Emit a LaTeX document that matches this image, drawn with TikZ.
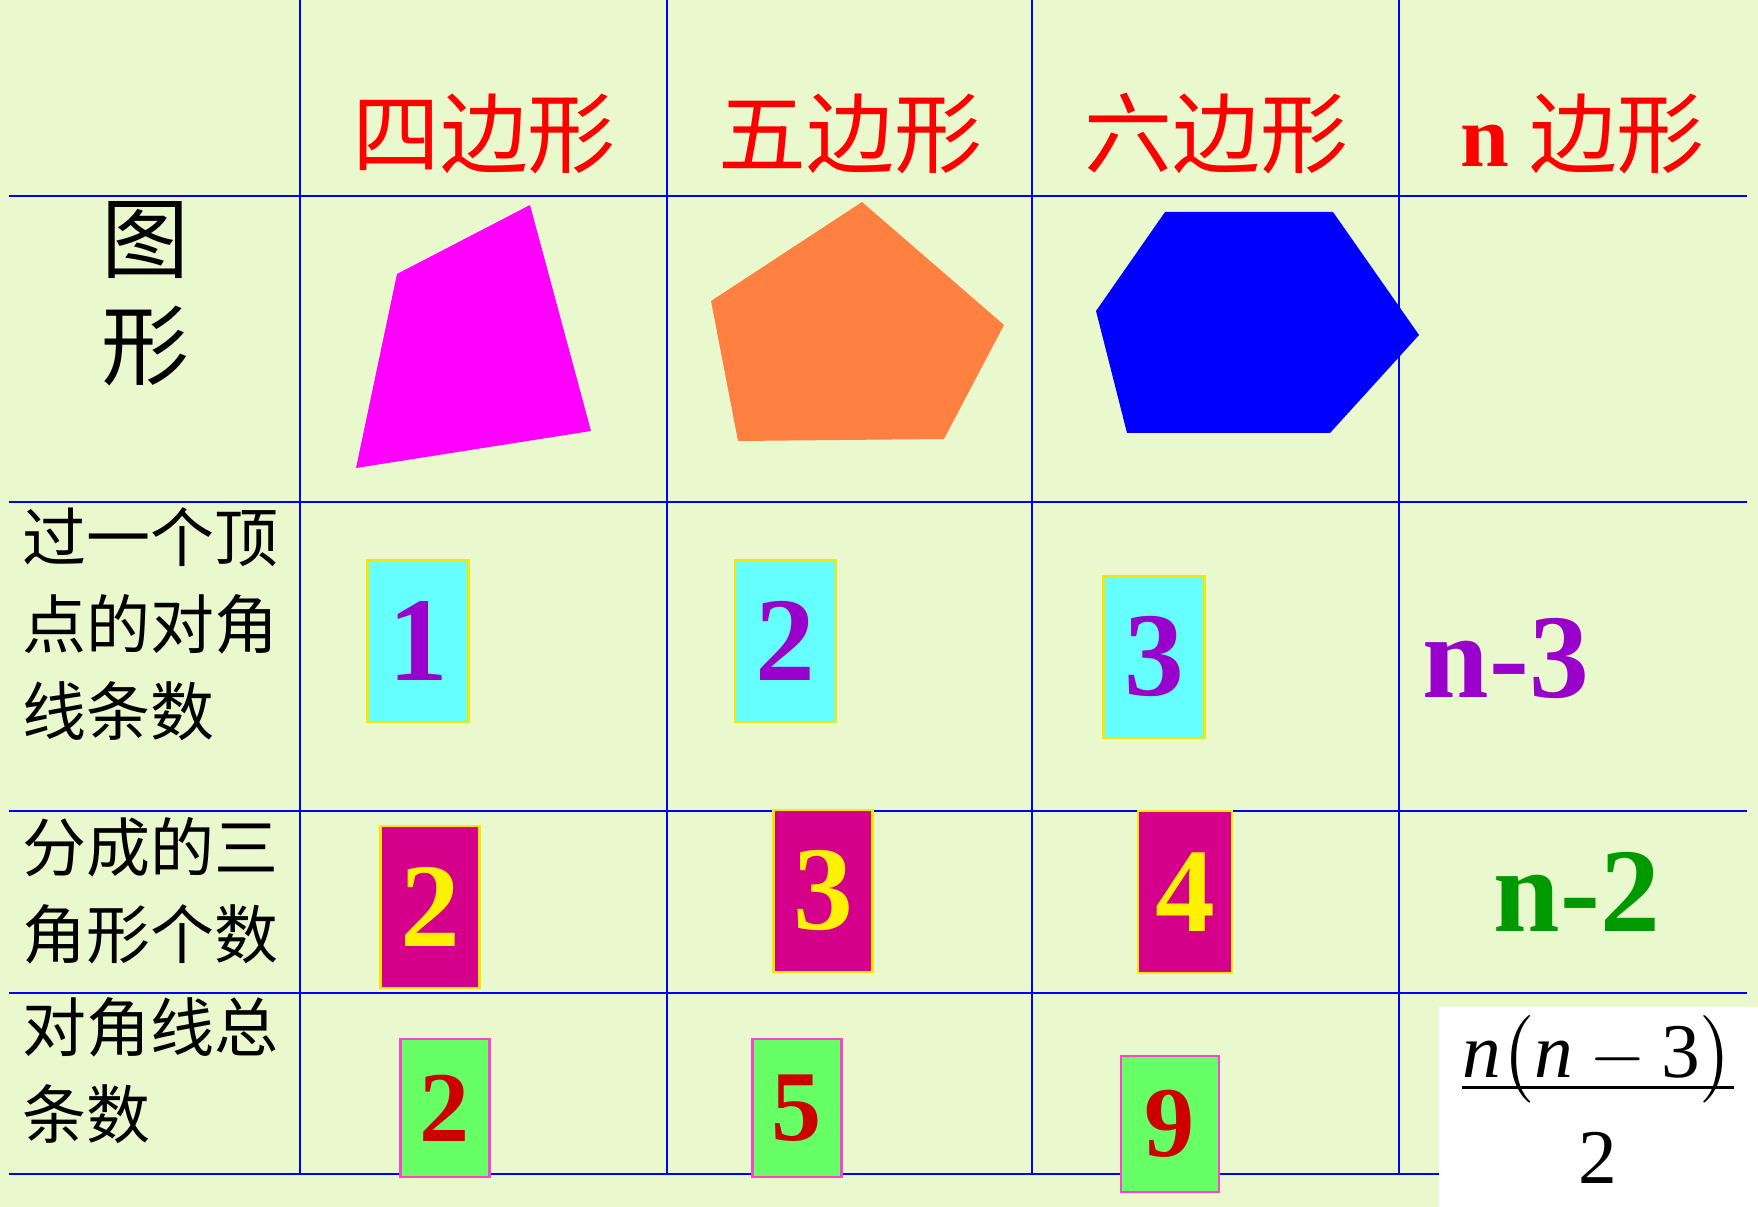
\documentclass[tikz,border=0pt]{standalone}
\usepackage{amsmath}
\usepackage{fontspec}
\setmainfont{Liberation Serif}
\newfontfamily\cjk{Noto Sans CJK SC}
\usetikzlibrary{positioning}

\definecolor{bgcol}{HTML}{EAF9CD}
\definecolor{quadcol}{HTML}{FF00FF}
\definecolor{pentcol}{HTML}{FF8040}
\definecolor{hexcol}{HTML}{0000FF}
\definecolor{cyanfill}{HTML}{66FFFF}
\definecolor{boxyellow}{HTML}{F5E800}
\definecolor{numpurple}{HTML}{9900CC}
\definecolor{magfill}{HTML}{D4008C}
\definecolor{greenfill}{HTML}{66FF66}
\definecolor{boxpink}{HTML}{FF44CC}
\definecolor{numred}{HTML}{CC0000}
\definecolor{numgreen}{HTML}{009900}

\begin{document}
\begin{tikzpicture}[x=0.01cm,y=-0.01cm,node distance=3.66cm,on grid,
    head/.style={text=red,inner sep=0pt,font=\cjk\fontsize{25}{30}\selectfont},
    side/.style={anchor=west,align=left,inner sep=0pt,font=\cjk\fontsize{18.2}{24.7}\selectfont},
    grid line/.style={draw=blue,line width=0.5pt},
    numbox/.style={inner sep=0pt,line width=0.6pt,minimum width=1.01cm,minimum height=1.62cm},
    cyanbox/.style={numbox,fill=cyanfill,draw=boxyellow,text=numpurple,font=\bfseries\fontsize{34}{34}\selectfont},
    magbox/.style={numbox,fill=magfill,draw=boxyellow,minimum width=0.99cm,text=yellow,font=\bfseries\fontsize{34}{34}\selectfont},
    greenbox/.style={numbox,fill=greenfill,draw=boxpink,minimum width=0.89cm,minimum height=1.38cm,text=numred,font=\bfseries\fontsize{28.5}{28.5}\selectfont},
    rule/.style={inner sep=0pt,font=\bfseries\fontsize{34}{34}\selectfont}]
        \fill[bgcol] (0,0) rectangle (1758,1207);
        \useasboundingbox (0,0) rectangle (1758,1207);
        \foreach \y in {196,502,811,993}
            \draw[grid line] (9,\y) -- (1747,\y);
        \draw[grid line] (9,1174) -- (1439,1174);
        \foreach \x in {300,667,1032,1399}
            \draw[grid line] (\x,0) -- (\x,1174);
        \node[head] (h4) at (484,134) {四边形};
        \node[head] (h5) [right=of h4] {五边形};
        \node[head] (h6) [right=of h5] {六边形};
        \node[head] (hn) [right=of h6] {{\rmfamily\bfseries n} 边形};
        \node[head,text=black] (pic1) at (145,240) {图};
        \node[head,text=black] (pic2) [below=1.06cm of pic1] {形};
        \node[side] (diag) at (22,624) {过一个顶\\点的对角\\线条数};
        \node[side] (tri) at (22,891) {分成的三\\角形个数};
        \node[side] (total) at (22,1071) {对角线总\\条数};
        \fill[quadcol] (397,274) -- (530,205) -- (591,431) -- (356,468) -- cycle;
        \fill[pentcol] (862,202) -- (1004,325) -- (944,439) -- (738,441) -- (711,301) -- cycle;
        \fill[hexcol] (1165,212) -- (1333,212) -- (1419,335) -- (1330,433) -- (1127,433) -- (1096,311) -- cycle;
        \node[cyanbox] (a4) at (418,641) {1};
        \node[cyanbox] (a5) [right=3.67cm of a4] {2};
        \node[cyanbox] (a6) at (1154,657) {3};
        \node[rule,text=numpurple] (an) at (1506,659) {n-3};
        \node[magbox] (b4) at (430,907) {2};
        \node[magbox] (b5) at (823,891) {3};
        \node[magbox,minimum width=0.94cm] (b6) at (1185,892) {4};
        \node[rule,text=numgreen] (bn) at (1577,892) {n-2};
        \node[greenbox] (c4) at (445,1108) {2};
        \node[greenbox] (c5) at (797,1108) {5};
        \node[greenbox,minimum width=0.98cm,minimum height=1.36cm] (c6) at (1170,1124) {9};
        \fill[white] (1439,1007) rectangle (1758,1207);
        \node[anchor=base,inner sep=0pt,font=\fontsize{22}{26}\selectfont] (cn) at (1598,1106)
            {$\dfrac{\raisebox{-6pt}[12pt][0pt]{$\mathit{n}\bigl(\mathit{n}-\mathrm{3}\bigr)$}}{\rule{0pt}{1.1em}\mathrm{2}}$};
\end{tikzpicture}
\end{document}
